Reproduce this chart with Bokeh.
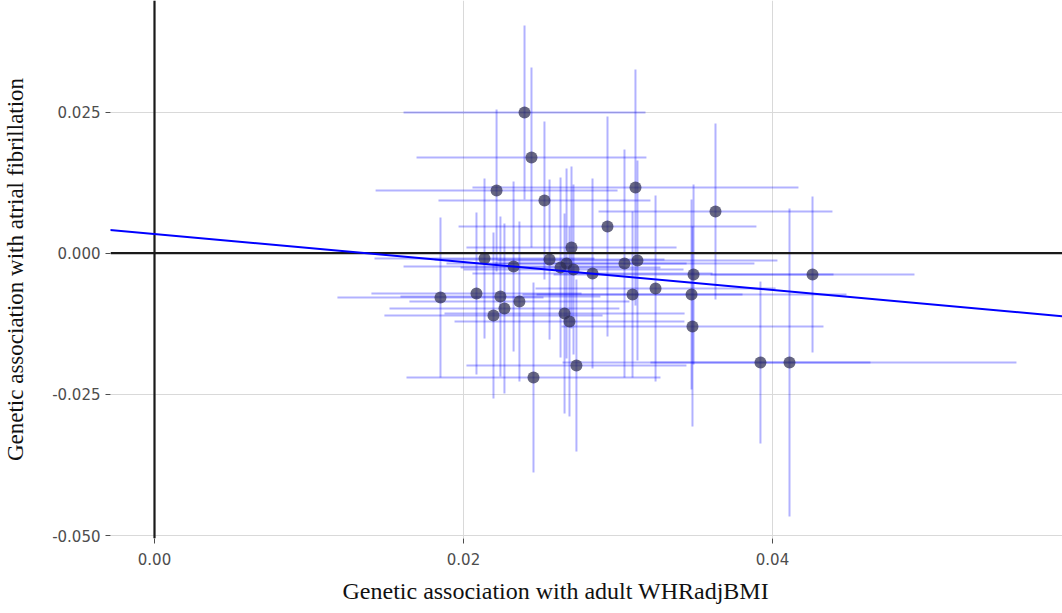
import numpy as np
from bokeh.plotting import figure
from bokeh.models import (ColumnDataSource, Span, Slope, FixedTicker, Range1d,
                          NumeralTickFormatter, Title)
from bokeh.embed import file_html
from bokeh.resources import INLINE

# Genetic association with adult WHRadjBMI (beta) and its SE
beta_x = [0.02395, 0.02440, 0.02214, 0.03113, 0.02524, 0.02932, 0.03631, 0.02699,
          0.02136, 0.02557, 0.02324, 0.02667, 0.02628, 0.02712, 0.02835, 0.03042,
          0.03126, 0.03489, 0.04259, 0.01851, 0.02084, 0.02239, 0.02362, 0.02265,
          0.02194, 0.02654, 0.02686, 0.03094, 0.03243, 0.03476, 0.03482, 0.02453,
          0.02731, 0.03922, 0.04110]
se_x = [0.00783, 0.00744, 0.00783, 0.01055, 0.00686, 0.00964, 0.00757, 0.00680,
        0.00712, 0.00744, 0.00712, 0.00777, 0.00647, 0.00712, 0.00777, 0.00841,
        0.00906, 0.00906, 0.00660, 0.00667, 0.00680, 0.00647, 0.00712, 0.00744,
        0.00706, 0.00777, 0.00744, 0.00712, 0.00777, 0.01003, 0.00848, 0.00822,
        0.00712, 0.00712, 0.01469]
# Genetic association with atrial fibrillation (beta) and its SE
beta_y = [0.02492, 0.01695, 0.01110, 0.01163, 0.00933, 0.00473, 0.00738, 0.00101,
          -0.00094, -0.00112, -0.00236, -0.00182, -0.00253, -0.00289, -0.00359, -0.00182,
          -0.00129, -0.00377, -0.00377, -0.00784, -0.00714, -0.00767, -0.00855, -0.00979,
          -0.01103, -0.01068, -0.01209, -0.00731, -0.00625, -0.00731, -0.01298, -0.02201,
          -0.01989, -0.01936, -0.01936]
se_y = [0.01541, 0.01594, 0.01434, 0.02090, 0.01399, 0.01948, 0.01558, 0.01434,
        0.01417, 0.01417, 0.01505, 0.01682, 0.01594, 0.01505, 0.01682, 0.02019,
        0.01771, 0.01594, 0.01381, 0.01417, 0.01434, 0.01417, 0.01417, 0.01505,
        0.01470, 0.01771, 0.01682, 0.01470, 0.01647, 0.01682, 0.01771, 0.01682,
        0.01523, 0.01434, 0.02727]

# regression line
slope = -0.248
intercept = 0.0034

x_ticks = [0.0, 0.02, 0.04]
y_ticks = [-0.05, -0.025, 0.0, 0.025]

x_label = "Genetic association with adult WHRadjBMI"
y_label = "Genetic association with atrial fibrillation"

bx = np.array(beta_x); sx = np.array(se_x)
by = np.array(beta_y); sy = np.array(se_y)
src = ColumnDataSource(dict(x=bx, y=by, xl=bx - sx, xh=bx + sx, yl=by - sy, yh=by + sy))

p = figure(width=1062, height=613, output_backend="svg", toolbar_location=None,
           x_range=Range1d(-0.002848, 0.05877), y_range=Range1d(-0.05052, 0.04475),
           min_border_left=110, min_border_right=0, min_border_top=0, min_border_bottom=75)
p.outline_line_color = None
p.background_fill_color = "white"
p.border_fill_color = "white"

for ax in (p.xaxis[0], p.yaxis[0]):
    ax.axis_line_color = None
    ax.major_tick_in = 0
    ax.major_tick_out = 5
    ax.major_tick_line_color = "#4d4d4d"
    ax.minor_tick_line_color = None
    ax.major_label_text_font = "DejaVu Sans"
    ax.major_label_text_font_size = "15px"
    ax.major_label_text_color = "#4d4d4d"

p.xaxis[0].ticker = FixedTicker(ticks=x_ticks)
p.xaxis[0].formatter = NumeralTickFormatter(format="0.00")
p.xaxis[0].major_label_standoff = 9
p.yaxis[0].ticker = FixedTicker(ticks=y_ticks)
p.yaxis[0].formatter = NumeralTickFormatter(format="0.000")
p.yaxis[0].major_label_standoff = 5
p.yaxis[0].axis_label = y_label
p.yaxis[0].axis_label_text_font = "Liberation Serif"
p.yaxis[0].axis_label_text_font_size = "23px"
p.yaxis[0].axis_label_text_font_style = "normal"
p.yaxis[0].axis_label_text_color = "#111111"
p.yaxis[0].axis_label_standoff = 21

p.xgrid.ticker = FixedTicker(ticks=x_ticks)
p.ygrid.ticker = FixedTicker(ticks=y_ticks)
p.grid.grid_line_color = "#d9d9d9"
p.grid.grid_line_width = 1

p.add_layout(Span(location=0, dimension="height", line_color="#1a1a1a", line_width=2.2, level="glyph"))
p.add_layout(Span(location=0, dimension="width", line_color="#1a1a1a", line_width=2.2, level="glyph"))

p.segment(x0="xl", x1="xh", y0="y", y1="y", source=src, line_color="#0000ff", line_alpha=0.3, line_width=2)
p.segment(x0="x", x1="x", y0="yl", y1="yh", source=src, line_color="#0000ff", line_alpha=0.3, line_width=2)
p.scatter(x="x", y="y", source=src, size=12, fill_color="#2c2c50", fill_alpha=0.72, line_color=None)

p.add_layout(Slope(gradient=slope, y_intercept=intercept, line_color="#0000ff", line_width=2))

p.add_layout(Title(text=x_label, align="left", offset=232, text_font="Liberation Serif",
                   text_font_size="24px", text_font_style="normal", text_color="#111111",
                   standoff=16), "below")

open("out.html", "w").write(file_html(p, INLINE))
